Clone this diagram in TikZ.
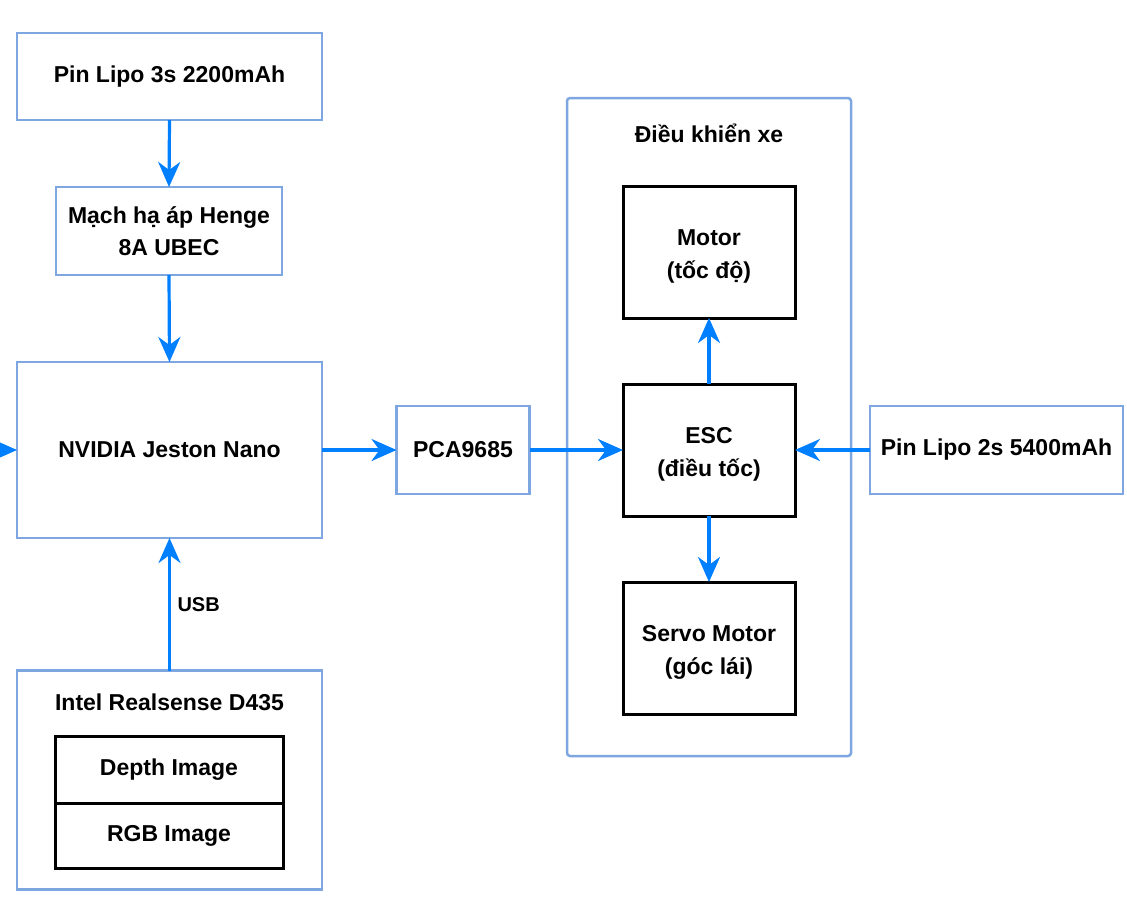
\documentclass[tikz,border=0pt]{standalone}
\usepackage{fontspec}
\setmainfont{Liberation Sans}
\usetikzlibrary{arrows.meta}
\definecolor{boxblue}{HTML}{7EA6E0}
\definecolor{arrblue}{HTML}{007FFF}
\begin{document}
\begin{tikzpicture}[x=1pt,y=-1pt,
  every node/.style={font=\fontsize{23}{32}\selectfont\bfseries, align=center, inner sep=0pt, outer sep=0pt},
  bluebox/.style={draw=boxblue, line width=2.5pt, rectangle},
  blackbox/.style={draw=black, line width=3pt, rectangle},
  boxtext/.style={font=\fontsize{23}{33}\selectfont\bfseries},
  conn/.style={draw=arrblue, line width=3.2pt, -{Stealth[length=25pt,width=22pt,inset=8pt]}},
]
\useasboundingbox (0,0) rectangle (1127,907);

% left column
\node[bluebox, minimum width=305pt, minimum height=87pt] (pin3) at (169.5,76.5) {Pin Lipo 3s 2200mAh};
\node[bluebox, minimum width=226pt, minimum height=88pt] (ubec) at (169,231) {Mạch hạ áp Henge\\8A UBEC};
\node[bluebox, minimum width=305pt, minimum height=176pt] (nv) at (169.5,450) {NVIDIA Jeston Nano};
\node[bluebox, minimum width=305pt, minimum height=219pt] (intel) at (169.5,780) {};
\node (inteltitle) at (169.5,702) {Intel Realsense D435};
\node[blackbox, minimum width=228pt, minimum height=67pt] (depth) at (169,769.5) {Depth Image};
\node[blackbox, minimum width=228pt, minimum height=65pt] (rgb) at (169,835.5) {RGB Image};

% middle
\node[bluebox, minimum width=133pt, minimum height=88pt] (pca) at (463,450) {PCA9685};

% control group
\node[bluebox, rounded corners=3pt, minimum width=284pt, minimum height=658pt] (ctl) at (709,427) {};
\node (ctltitle) at (709,133) {Điều khiển xe};
\node[blackbox, minimum width=172pt, minimum height=132pt] (motor) at (709,252) {};
\node[boxtext] (motortext) at ([yshift=-4pt]motor.center) {Motor\\(tốc độ)};
\node[blackbox, minimum width=172pt, minimum height=132pt] (esc) at (709,450) {};
\node[boxtext] (esctext) at ([yshift=-4pt]esc.center) {ESC\\(điều tốc)};
\node[blackbox, minimum width=172pt, minimum height=132pt] (servo) at (709,648) {};
\node[boxtext] (servotext) at ([yshift=-4pt]servo.center) {Servo Motor\\(góc lái)};

% right
\node[bluebox, minimum width=253pt, minimum height=88pt] (pin2) at (996.5,450) {Pin Lipo 2s 5400mAh};

% connectors
\coordinate (lin) at (0,450);
\draw[conn] (pin3.south) -- (ubec.north);
\draw[conn] (ubec.south) -- (nv.north);
\draw[conn] (intel.north) -- (nv.south) node[pos=0.5, anchor=west, xshift=8pt, font=\fontsize{20}{24}\selectfont\bfseries] (usb) {USB};
\draw[conn] (lin) -- (nv.west);
\draw[conn] (nv.east) -- (pca.west);
\draw[conn] (pca.east) -- (esc.west);
\draw[conn] (pin2.west) -- (esc.east);
\draw[conn] (esc.north) -- (motor.south);
\draw[conn] (esc.south) -- (servo.north);
\end{tikzpicture}
\end{document}
